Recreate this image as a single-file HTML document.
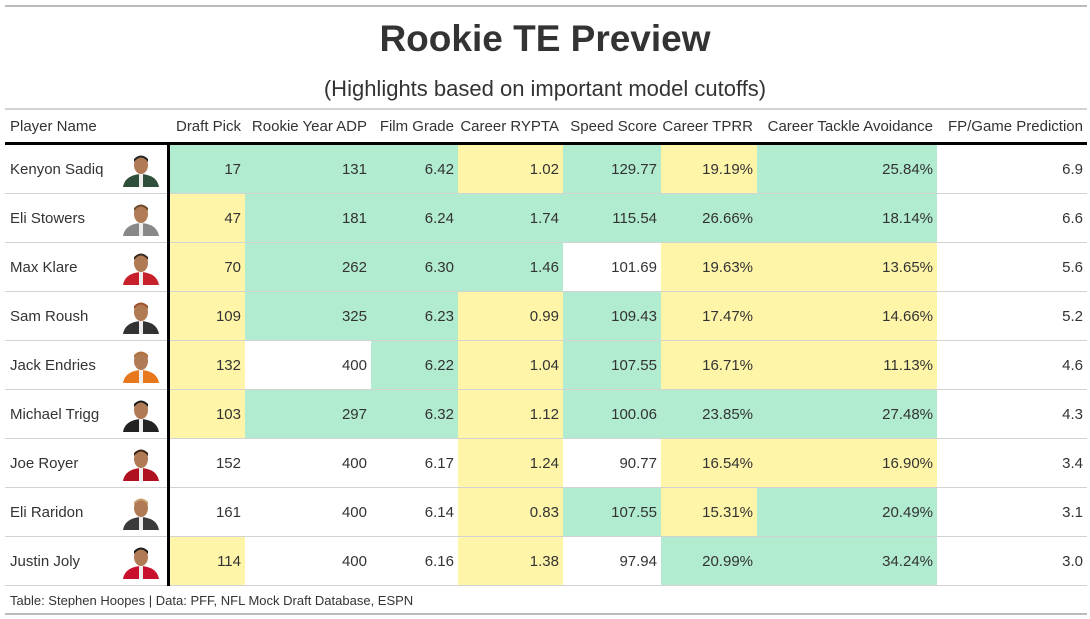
<!DOCTYPE html>
<html><head><meta charset="utf-8"><style>
body{margin:0;width:1090px;height:619px;background:#fff;font-family:"Liberation Sans",sans-serif;color:#333;position:relative;overflow:hidden}
.abs{position:absolute}
.t{left:0;width:1090px;text-align:center}
table{position:absolute;left:5px;top:108px;border-collapse:collapse;table-layout:fixed;width:1082px;font-size:15px}
th{font-weight:normal;height:31px;text-align:right;padding:1px 4px 0 0;border-top:2px solid #d3d3d3;border-bottom:3px solid #000;white-space:nowrap;vertical-align:middle}
td{height:48px;border-bottom:1px solid #d3d3d3;text-align:right;padding:0 4px 0 0;white-space:nowrap}
td.n,th.n{text-align:left;padding-left:5px;border-right:3px solid #000;position:relative}
th.n{border-right:none}
.G{background:#b1ebd0}.Y{background:#fef5a9}
svg.p{position:absolute;left:116px;top:8px}
</style></head><body>
<div class="abs" style="left:5px;top:5px;width:1082px;height:2px;background:#bbb"></div>
<div class="abs t" style="top:18px;font-size:37px;font-weight:bold">Rookie TE Preview</div>
<div class="abs t" style="top:76px;font-size:22px">(Highlights based on important model cutoffs)</div>
<table>
<colgroup><col style="width:163px"><col style="width:77px"><col style="width:126px"><col style="width:87px"><col style="width:105px"><col style="width:98px"><col style="width:96px"><col style="width:180px"><col style="width:150px"></colgroup>
<tr><th class="n">Player Name</th><th>Draft Pick</th><th>Rookie Year ADP</th><th>Film Grade</th><th>Career RYPTA</th><th>Speed Score</th><th>Career TPRR</th><th>Career Tackle Avoidance</th><th>FP/Game Prediction</th></tr>
<tbody id="b"></tbody>
</table>
<div class="abs" style="left:10px;top:593px;font-size:13px">Table: Stephen Hoopes | Data: PFF, NFL Mock Draft Database, ESPN</div>
<div class="abs" style="left:5px;top:613px;width:1082px;height:2px;background:#bbb"></div>
<script>
var rows=[
["Kenyon Sadiq","17","131","6.42","1.02","129.77","19.19%","25.84%","6.9","GGGYGYG","#2f4f3a","#222"],
["Eli Stowers","47","181","6.24","1.74","115.54","26.66%","18.14%","6.6","YGGGGGG","#888","#6b4a2e"],
["Max Klare","70","262","6.30","1.46","101.69","19.63%","13.65%","5.6","YGGGWYY","#c8202a","#3a2a20"],
["Sam Roush","109","325","6.23","0.99","109.43","17.47%","14.66%","5.2","YGGYGYY","#333","#a0522d"],
["Jack Endries","132","400","6.22","1.04","107.55","16.71%","11.13%","4.6","YWGYGYY","#e8781e","#b0703a"],
["Michael Trigg","103","297","6.32","1.12","100.06","23.85%","27.48%","4.3","YGGYGGG","#222","#1a1a1a"],
["Joe Royer","152","400","6.17","1.24","90.77","16.54%","16.90%","3.4","WWWYWYY","#b01020","#3a2418"],
["Eli Raridon","161","400","6.14","0.83","107.55","15.31%","20.49%","3.1","WWWYGYG","#3a3a3a","#c9a070"],
["Justin Joly","114","400","6.16","1.38","97.94","20.99%","34.24%","3.0","YWWYWGG","#c8102e","#1a1a1a"]];
var h="";
rows.forEach(function(r){
h+='<tr><td class="n">'+r[0]+'<svg class="p" width="40" height="34" viewBox="0 0 40 34"><path d="M2 34 Q4 22 20 21 Q36 22 38 34Z" fill="'+r[10]+'"/><rect x="18" y="20" width="4" height="14" fill="#eee"/><ellipse cx="20" cy="12" rx="7" ry="9" fill="#b07a55"/><path d="M13 9 Q20 0 27 9 L27 6 Q20 -1 13 6Z" fill="'+r[11]+'"/></svg></td>';
for(var i=1;i<=8;i++){var c=i<8?r[9][i-1]:'W';h+='<td class="'+c+'">'+r[i]+'</td>';}
h+='</tr>';});
document.getElementById('b').innerHTML=h;
</script>
</body></html>
